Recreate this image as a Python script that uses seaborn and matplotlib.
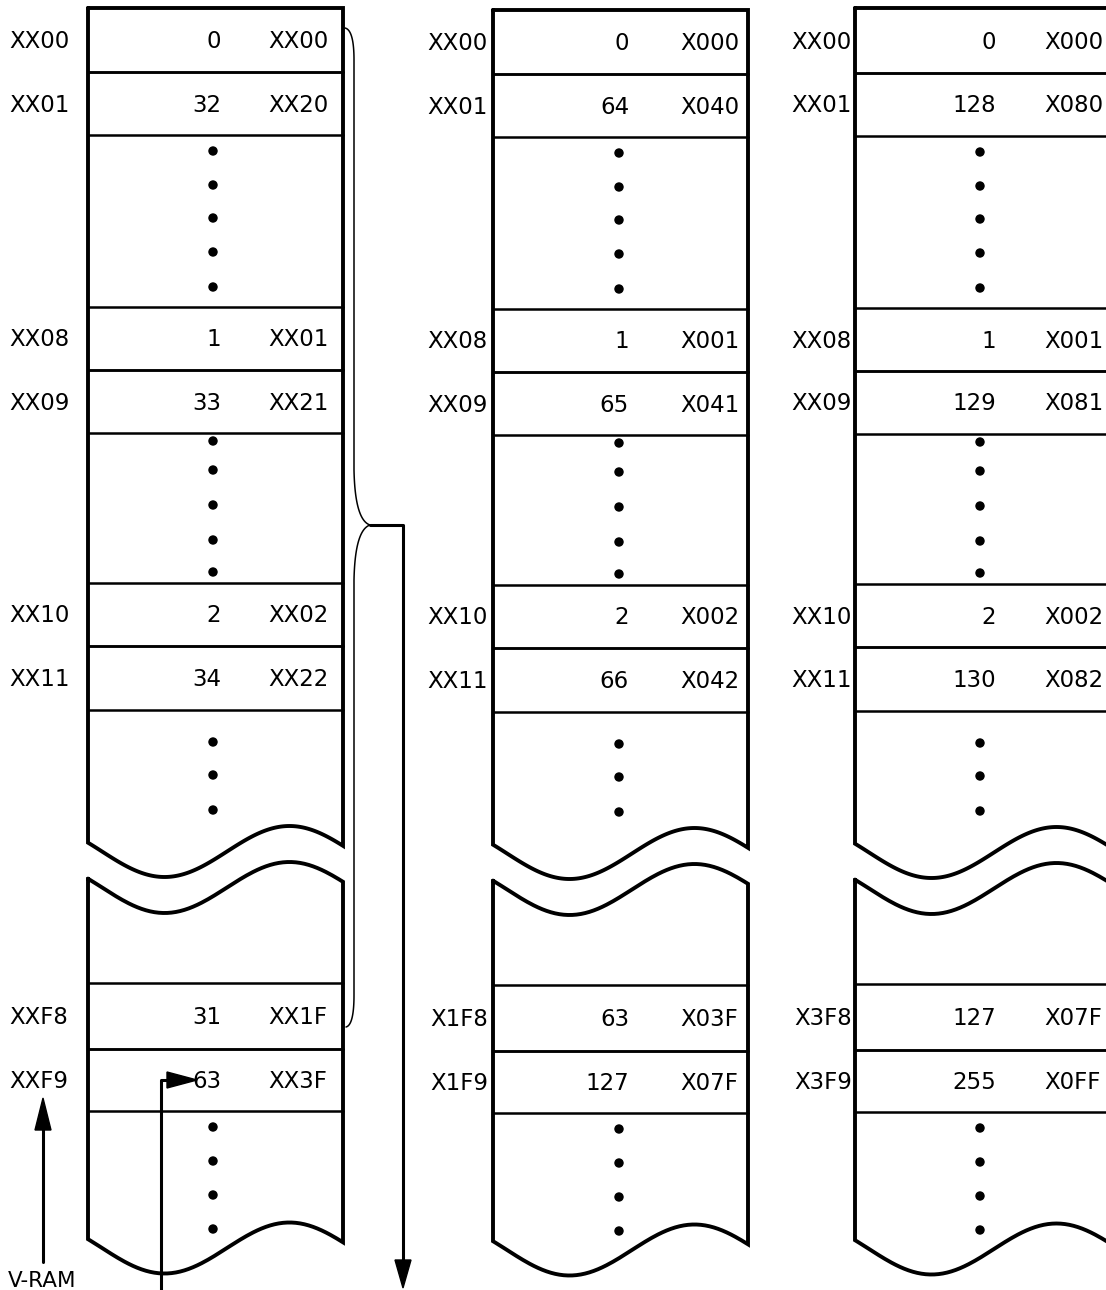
import numpy as np
import pandas as pd
import matplotlib
matplotlib.use("Agg")
import matplotlib.pyplot as plt
import seaborn as sns

# Memory map data (three columns)
row_labels_1 = ['XX00', 'XX01', 'XX08', 'XX09', 'XX10', 'XX11', 'XXF8', 'XXF9']
values_1 = [0, 32, 1, 33, 2, 34, 31, 63]
addr_1 = ['XX00', 'XX20', 'XX01', 'XX21', 'XX02', 'XX22', 'XX1F', 'XX3F']

row_labels_2 = ['XX00', 'XX01', 'XX08', 'XX09', 'XX10', 'XX11', 'X1F8', 'X1F9']
values_2 = [0, 64, 1, 65, 2, 66, 63, 127]
addr_2 = ['X000', 'X040', 'X001', 'X041', 'X002', 'X042', 'X03F', 'X07F']

row_labels_3 = ['XX00', 'XX01', 'XX08', 'XX09', 'XX10', 'XX11', 'X3F8', 'X3F9']
values_3 = [0, 128, 1, 129, 2, 130, 127, 255]
addr_3 = ['X000', 'X080', 'X001', 'X081', 'X002', 'X082', 'X07F', 'X0FF']

# row boundaries (pixels from top) and dot rows
row_edges = [(8, 72), (72, 135), (307, 370), (370, 433),
             (583, 646), (646, 710), (983, 1049), (1049, 1111)]
dot_rows = [151, 185, 218, 252, 287, 441, 470, 505, 540, 572,
            742, 775, 810, 1127, 1161, 1195, 1229]

sns.set_theme(style='white')
plt.rcParams['font.family'] = ['DejaVu Sans']
plt.rcParams['text.color'] = 'black'

fig = plt.figure(figsize=(11.06, 12.90), dpi=100)
ax = fig.add_axes([0, 0, 1, 1])
ax.set_xlim(0, 1106)
ax.set_ylim(1290, 0)
ax.axis('off')

FS = 16.5
LW = 2.8


def wave(L, R, mid, n=120):
    t = np.linspace(0, 1, n)
    x = L + t * (R - L)
    y = mid + 25.5 * np.sin(2 * np.pi * t / 0.98 - 0.353)
    return x, y


columns = [
    dict(L=88, R=343, dy=0, top=8, lab_x=9, lab_ha='left', num_x=221, adr_x=268, dot_x=213,
         labels=row_labels_1, vals=values_1, addr=addr_1),
    dict(L=493, R=748, dy=2, top=10, lab_x=488, lab_ha='right', num_x=629, adr_x=680, dot_x=619,
         labels=row_labels_2, vals=values_2, addr=addr_2),
    dict(L=855, R=1110, dy=1, top=8, lab_x=852, lab_ha='right', num_x=996, adr_x=1044, dot_x=980,
         labels=row_labels_3, vals=values_3, addr=addr_3),
]

for c in columns:
    L, R, dy = c['L'], c['R'], c['dy']
    # upper block
    wx, wy = wave(L, R, 851.5 + dy)
    xs = np.concatenate([[L, R], wx[::-1], [L]])
    ys = np.concatenate([[c['top'], c['top']], wy[::-1], [c['top']]])
    ax.plot(xs, ys, color='black', lw=LW, solid_joinstyle='miter')
    # lower block
    tx, ty = wave(L, R, 887.5 + dy)
    bx, by = wave(L, R, 1248 + dy)
    xs = np.concatenate([tx, bx[::-1], [tx[0]]])
    ys = np.concatenate([ty, by[::-1], [ty[0]]])
    ax.plot(xs, ys, color='black', lw=LW, solid_joinstyle='miter')
    # row lines
    for i, (y0, y1) in enumerate(row_edges):
        for yy in (y0, y1):
            if yy > 10:
                ax.plot([L, R], [yy + dy, yy + dy], color='black', lw=1.8)
        yc = (y0 + y1) / 2 + dy + 8
        ax.text(c['lab_x'], yc, c['labels'][i], ha=c['lab_ha'], va='baseline', fontsize=FS, color='black')
        ax.text(c['num_x'], yc, str(c['vals'][i]), ha='right', va='baseline', fontsize=FS, color='black')
        ax.text(c['adr_x'], yc, c['addr'][i], ha='left', va='baseline', fontsize=FS, color='black')
    dots = pd.DataFrame({'x': [c['dot_x']] * len(dot_rows), 'y': [d + dy for d in dot_rows]})
    sns.scatterplot(data=dots, x='x', y='y', ax=ax, color='black', s=46, edgecolor='none', legend=False)

# bracket
t = np.linspace(0, 1, 30)
def qcurve(p0, p1, p2):
    x = (1 - t) ** 2 * p0[0] + 2 * (1 - t) * t * p1[0] + t ** 2 * p2[0]
    y = (1 - t) ** 2 * p0[1] + 2 * (1 - t) * t * p1[1] + t ** 2 * p2[1]
    return x, y

segs = [qcurve((345, 28), (354, 30), (354, 60)),
        (np.array([354, 354]), np.array([60, 470])),
        qcurve((354, 470), (355, 520), (370, 525)),
        qcurve((370, 525), (355, 530), (354, 580)),
        (np.array([354, 354]), np.array([580, 995])),
        qcurve((354, 995), (354, 1025), (346, 1027))]
bx = np.concatenate([s[0] for s in segs])
by = np.concatenate([s[1] for s in segs])
ax.plot(bx, by, color='black', lw=1.1)

# output arrow
ax.plot([370, 403, 403], [525, 525, 1262], color='black', lw=2.2)
ax.fill([395, 411, 403], [1260, 1260, 1288], color='black')

# V-RAM arrow
ax.plot([43, 43], [1262, 1128], color='black', lw=2.2)
ax.fill([35, 51, 43], [1130, 1130, 1098], color='black')
ax.text(8, 1287, 'V-RAM', ha='left', va='baseline', fontsize=FS - 1, color='black')

# pointer to 63
ax.plot([161, 161, 170], [1295, 1080, 1080], color='black', lw=2.2)
ax.fill([167, 167, 197], [1072, 1088, 1080], color='black')

fig.savefig('out.png', dpi=100, facecolor='white')
